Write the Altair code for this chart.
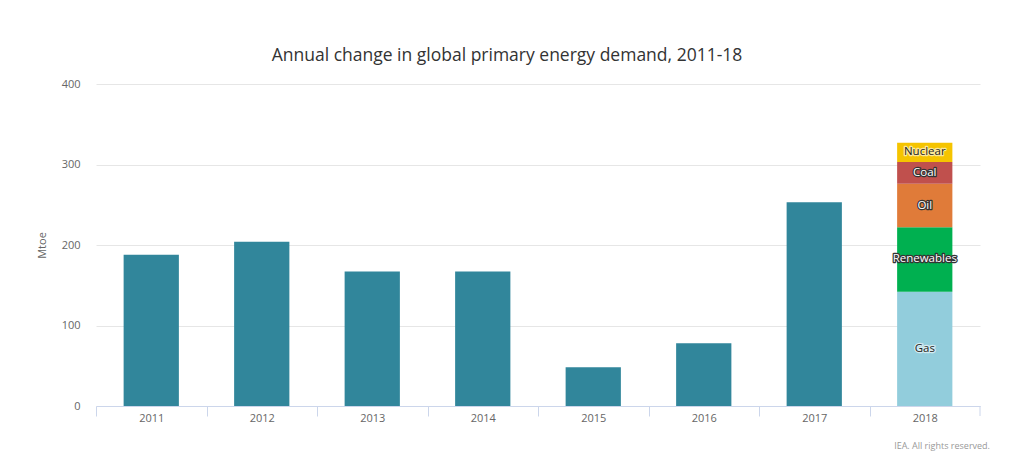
import altair as alt
import pandas as pd

years = ["2011", "2012", "2013", "2014", "2015", "2016", "2017"]
totals = [188, 204, 167, 167, 48, 78, 253]

fuels_2018 = ["Gas", "Renewables", "Oil", "Coal", "Nuclear"]
values_2018 = [142, 80, 54, 27, 24]

all_years = years + ["2018"]
series_domain = ["Total", "Gas", "Renewables", "Oil", "Coal", "Nuclear"]
series_colors = ["#31869b", "#92cddc", "#00b050", "#e07b39", "#c0504d", "#f5c400"]

rows = [{"year": y, "series": "Total", "value": v, "ord": 0} for y, v in zip(years, totals)]
rows += [{"year": "2018", "series": f, "value": v, "ord": i} for i, (f, v) in enumerate(zip(fuels_2018, values_2018))]
df = pd.DataFrame(rows)

FONT = "Open Sans"
W, H = 884, 322
STEP = W / 8.0

x_enc = alt.X("year:N", sort=all_years, title=None,
              scale=alt.Scale(paddingInner=0.5, paddingOuter=0.25),
              axis=alt.Axis(labelAngle=0, labelColor="#666666", labelFontSize=11, labelFont=FONT,
                            domainColor="#ccd6eb", tickColor="#ccd6eb", tickSize=10,
                            tickOffset=-STEP / 2, labelOffset=STEP / 2, labelPadding=-4,
                            grid=False))

bars = alt.Chart(df).mark_bar().encode(
    x=x_enc,
    y=alt.Y("value:Q", stack="zero", title="Mtoe",
            scale=alt.Scale(domain=[0, 400]),
            axis=alt.Axis(values=[0, 100, 200, 300, 400], labelColor="#666666", labelFontSize=11,
                          labelFont=FONT, titleColor="#666666", titleFontSize=11, titleFont=FONT,
                          titleFontWeight="normal", domain=False, ticks=False, gridColor="#e6e6e6",
                          labelPadding=16, titlePadding=14)),
    color=alt.Color("series:N", scale=alt.Scale(domain=series_domain, range=series_colors), legend=None),
    order=alt.Order("ord:Q"),
)

stacked = alt.Chart(df).transform_filter(alt.datum.year == "2018").transform_stack(
    stack="value", groupby=["year"], as_=["v0", "v1"], sort=[alt.SortField("ord")]
).transform_calculate(mid="(datum.v0 + datum.v1) / 2")

dark = alt.FieldOneOfPredicate(field="series", oneOf=["Nuclear", "Gas"])

halo = stacked.mark_text(font=FONT, fontSize=11.5, strokeWidth=2.5, strokeJoin="round").encode(
    x=alt.X("year:N", sort=all_years),
    y=alt.Y("mid:Q"),
    text="series:N",
    stroke=alt.condition(dark, alt.value("#ffffff"), alt.value("#333333")),
    opacity=alt.condition(dark, alt.value(0.6), alt.value(1.0)),
)
labels = stacked.mark_text(font=FONT, fontSize=11.5).encode(
    x=alt.X("year:N", sort=all_years),
    y=alt.Y("mid:Q"),
    text="series:N",
    color=alt.condition(dark, alt.value("#222222"), alt.value("#ffffff")),
)

end_tick = alt.Chart(pd.DataFrame({"a": [0]})).mark_rule(color="#ccd6eb").encode(
    x=alt.value(W), y=alt.value(H), y2=alt.value(H + 10))

footer = alt.Chart(pd.DataFrame({"t": ["IEA. All rights reserved."]})).mark_text(
    font=FONT, fontSize=9, color="#999999", align="right", baseline="middle"
).encode(x=alt.value(894), y=alt.value(362), text="t:N")

chart = alt.layer(bars, halo, labels, end_tick, footer).properties(
    width=W, height=H,
    autosize="none",
    background="white",
    padding={"left": 88, "top": 76, "right": 36, "bottom": 57},
    title=alt.Title("Annual change in global primary energy demand, 2011-18",
                    font=FONT, fontSize=17.5, fontWeight="normal", color="#333333",
                    anchor="middle", offset=14, dx=-31),
).configure_view(strokeWidth=0)

chart.save("out.html", embed_options={"renderer": "svg", "actions": False})
